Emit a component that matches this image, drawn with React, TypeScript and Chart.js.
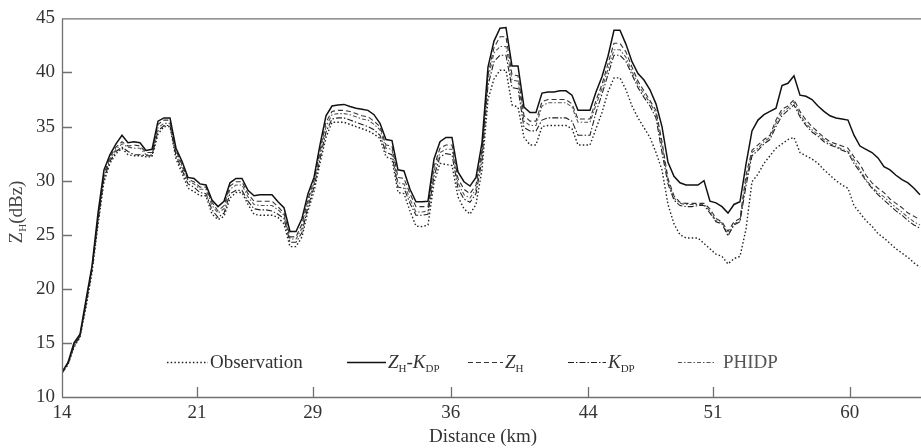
import React, { useEffect, useRef } from "react";
import { Chart, registerables } from "chart.js";
Chart.register(...registerables);

// gate index (one gate per sample along the ray)
const GATE_COUNT = 144;
const X_MAX = 143.17;
const TICK_POS = [0, 22.5, 41.8, 64.8, 87.7, 108.5, 131.3];
const TICK_LABELS = ["14", "21", "29", "36", "44", "51", "60"];
const Y_TICKS = [10, 15, 20, 25, 30, 35, 40, 45];

const ZH_KDP = [
  12.3, 13.2, 15.0, 15.8, 19.0, 22.1, 27.0, 31.0, 32.4, 33.4, 34.2, 33.5, 33.6, 33.5, 32.8, 32.9,
  35.5, 35.8, 35.8, 33.0, 31.8, 30.3, 30.2, 29.7, 29.6, 28.2, 27.6, 28.1, 29.8, 30.2, 30.2, 29.1,
  28.6, 28.7, 28.7, 28.7, 28.05, 27.5, 25.3, 25.3, 26.5, 28.8, 30.3, 33.3, 36.0, 36.9, 37.0, 37.05,
  36.85, 36.7, 36.6, 36.5, 36.1, 35.3, 33.8, 33.7, 31.0, 30.9, 29.2, 28.05, 28.05, 28.1, 32.0, 33.6,
  34.0, 34.0, 30.8, 29.9, 29.5, 30.3, 33.5, 40.5, 42.9, 44.1, 44.15, 40.6, 40.6, 36.8, 36.3, 36.3,
  38.1, 38.2, 38.2, 38.3, 38.3, 37.9, 36.5, 36.5, 36.5, 38.2, 39.6, 41.5, 43.9, 43.9, 42.6, 41.0,
  39.9, 39.3, 38.4, 37.1, 35.0, 31.7, 30.4, 29.8, 29.6, 29.6, 29.6, 30.0, 28.1, 27.95, 27.6, 27.0,
  27.8, 28.05, 31.5, 34.6, 35.6, 36.1, 36.4, 36.7, 38.8, 39.0, 39.7, 37.9, 37.8, 37.5, 36.9, 36.4,
  36.0, 35.8, 35.7, 35.6, 34.2, 33.2, 32.9, 32.6, 32.1, 31.3, 31.0, 30.5, 30.1, 29.8, 29.3, 28.7,
];

const ZH = [
  12.3, 13.1, 14.8, 15.7, 18.8, 22.0, 26.6, 30.6, 32.2, 33.1, 33.6, 33.2, 33.3, 33.2, 32.6, 32.6,
  35.2, 35.6, 35.6, 32.8, 31.5, 30.1, 29.9, 29.4, 29.4, 28.0, 27.2, 27.7, 29.5, 29.9, 29.9, 28.8,
  28.1, 28.1, 28.1, 28.1, 27.6, 27.0, 24.8, 24.8, 26.0, 28.3, 30.0, 32.8, 35.4, 36.4, 36.5, 36.5,
  36.4, 36.2, 36.0, 35.9, 35.5, 35.0, 33.3, 33.2, 30.3, 30.2, 28.8, 27.6, 27.6, 27.6, 31.3, 33.0,
  33.3, 33.3, 30.2, 29.2, 28.8, 29.6, 32.8, 39.8, 42.3, 43.3, 43.3, 39.8, 39.7, 36.0, 35.5, 35.5,
  37.3, 37.5, 37.5, 37.5, 37.5, 37.1, 35.7, 35.7, 35.7, 37.4, 38.9, 40.8, 42.7, 42.7, 41.9, 40.5,
  39.2, 38.3, 37.4, 36.5, 33.6, 30.2, 28.6, 28.0, 27.9, 27.9, 27.9, 27.9, 27.4, 26.5, 26.2, 25.3,
  26.2, 26.5, 30.5, 32.8, 33.3, 33.8, 34.2, 35.6, 36.6, 36.9, 37.5, 36.4, 35.6, 35.0, 34.5, 34.0,
  33.6, 33.4, 33.2, 33.0, 32.2, 31.5, 30.5, 29.8, 29.3, 28.9, 28.3, 27.9, 27.5, 27.0, 26.7, 26.4,
];

const KDP = [
  12.2, 13.0, 14.7, 15.6, 18.5, 21.7, 26.2, 30.2, 31.8, 32.7, 33.1, 32.7, 32.4, 32.4, 32.3, 32.3,
  34.6, 35.1, 35.1, 32.3, 31.0, 29.7, 29.4, 28.9, 28.8, 27.3, 26.6, 27.0, 28.8, 29.1, 29.1, 28.1,
  27.4, 27.3, 27.3, 27.2, 26.9, 26.5, 24.3, 24.3, 25.2, 27.6, 29.4, 32.0, 34.5, 35.7, 35.8, 35.8,
  35.6, 35.4, 35.2, 35.0, 34.7, 34.2, 32.6, 32.4, 29.4, 29.3, 27.9, 26.8, 26.8, 26.9, 30.4, 32.2,
  32.5, 32.4, 29.3, 28.3, 28.0, 28.8, 31.9, 38.8, 41.0, 41.6, 41.6, 38.6, 38.5, 34.9, 34.6, 34.6,
  35.6, 35.8, 35.8, 35.8, 35.8, 35.5, 34.2, 34.2, 34.2, 36.3, 38.0, 39.8, 41.6, 41.6, 41.0, 39.8,
  38.6, 37.7, 36.9, 35.8, 32.6, 29.7, 28.2, 27.7, 27.6, 27.6, 27.7, 27.7, 27.0, 26.2, 26.0, 24.9,
  25.9, 26.2, 29.5, 32.3, 32.8, 33.4, 33.8, 35.0, 36.0, 36.5, 37.0, 35.9, 35.1, 34.5, 34.1, 33.6,
  33.3, 33.1, 32.8, 32.6, 31.6, 30.8, 30.0, 29.3, 28.7, 28.2, 27.7, 27.2, 26.8, 26.3, 25.9, 25.6,
];

const PHIDP = [
  12.3, 13.2, 14.9, 15.7, 18.6, 21.8, 26.4, 30.4, 32.0, 32.9, 33.4, 33.1, 33.0, 33.0, 32.4, 32.4,
  34.9, 35.3, 35.3, 32.6, 31.3, 30.0, 29.7, 29.2, 29.2, 27.7, 27.0, 27.4, 29.2, 29.6, 29.6, 28.5,
  27.8, 27.7, 27.7, 27.7, 27.3, 26.8, 24.6, 24.6, 25.6, 28.0, 29.7, 32.4, 35.0, 36.1, 36.2, 36.2,
  36.1, 35.9, 35.7, 35.6, 35.2, 34.7, 33.0, 32.9, 29.8, 29.7, 28.3, 27.1, 27.1, 27.2, 30.9, 32.6,
  32.9, 32.9, 29.8, 28.7, 28.4, 29.2, 32.4, 39.4, 41.8, 42.4, 42.4, 39.3, 39.2, 35.5, 35.1, 35.1,
  36.9, 37.2, 37.2, 37.2, 37.2, 36.8, 35.4, 35.4, 35.4, 37.0, 38.5, 40.3, 42.1, 42.1, 41.4, 40.1,
  38.9, 38.0, 37.2, 36.2, 33.2, 30.0, 28.4, 27.9, 27.8, 27.8, 27.8, 27.8, 27.2, 26.3, 26.1, 25.0,
  26.0, 26.3, 30.0, 32.6, 33.0, 33.6, 34.0, 35.3, 36.3, 36.7, 37.3, 36.1, 35.3, 34.7, 34.3, 33.8,
  33.4, 33.2, 32.9, 32.7, 31.9, 31.0, 30.1, 29.4, 28.9, 28.5, 28.0, 27.5, 27.1, 26.6, 26.2, 25.9,
];

const OBSERVATION = [
  12.2, 13.0, 14.6, 15.5, 18.3, 21.5, 25.9, 29.9, 31.6, 32.5, 33.0, 32.4, 32.3, 32.3, 32.2, 32.2,
  34.3, 35.0, 35.0, 32.0, 30.7, 29.3, 29.0, 28.6, 28.6, 26.9, 26.4, 26.7, 28.4, 28.9, 28.9, 27.8,
  26.9, 26.8, 26.8, 26.8, 26.6, 26.0, 23.9, 23.9, 24.8, 27.2, 29.0, 31.6, 34.0, 35.4, 35.4, 35.4,
  35.2, 35.0, 34.8, 34.6, 34.3, 33.9, 32.2, 32.0, 28.9, 28.8, 27.2, 25.8, 25.75, 25.9, 29.8, 31.6,
  31.5, 31.4, 28.5, 27.4, 26.9, 27.8, 31.0, 37.5, 39.4, 40.2, 40.2, 37.0, 36.8, 34.0, 33.3, 33.3,
  35.0, 35.1, 35.1, 35.1, 35.1, 34.8, 33.3, 33.3, 33.3, 34.8, 36.3, 38.2, 39.5, 39.5, 38.4, 36.9,
  35.8, 34.9, 34.0, 32.6, 31.0, 27.8, 26.0, 25.0, 24.7, 24.7, 24.7, 24.2, 23.7, 23.2, 23.0, 22.3,
  22.8, 23.0, 25.5, 29.9, 30.6, 31.6, 32.3, 33.0, 33.4, 33.8, 34.0, 32.6, 32.3, 32.0, 31.6, 31.0,
  30.5, 30.0, 29.6, 29.3, 27.7, 27.0, 26.3, 25.8, 25.1, 24.7, 24.2, 23.7, 23.3, 22.9, 22.4, 22.0,
];

const FONT = "'Liberation Serif', 'Times New Roman', serif";
const AXIS_COLOR = "#707070";
const TEXT_COLOR = "#333333";

type Part = { t: string; italic?: boolean; sub?: boolean };

function partFont(p: Part, size: number) {
  const s = p.sub ? Math.round(size * 0.6) : size;
  return `${p.italic ? "italic " : ""}${s}px ${FONT}`;
}

function measureParts(ctx: CanvasRenderingContext2D, parts: Part[], size: number) {
  let w = 0;
  for (const p of parts) {
    ctx.font = partFont(p, size);
    w += ctx.measureText(p.t).width;
  }
  return w;
}

function drawParts(ctx: CanvasRenderingContext2D, parts: Part[], x: number, y: number, size: number, color: string) {
  ctx.fillStyle = color;
  ctx.textBaseline = "alphabetic";
  ctx.textAlign = "left";
  let cx = x;
  for (const p of parts) {
    ctx.font = partFont(p, size);
    ctx.fillText(p.t, cx, p.sub ? y + 4 : y);
    cx += ctx.measureText(p.t).width;
  }
}

const SERIES = [
  { label: "Observation", data: OBSERVATION, color: "#222222", width: 1.4, dash: [1.5, 2.2], parts: [{ t: "Observation" }] as Part[], lx: [167, 208], tx: 210, tcolor: "#333" },
  { label: "ZH-KDP", data: ZH_KDP, color: "#111111", width: 1.5, dash: [] as number[], parts: [{ t: "Z", italic: true }, { t: "H", sub: true }, { t: "-" }, { t: "K", italic: true }, { t: "DP", sub: true }] as Part[], lx: [347, 386], tx: 388, tcolor: "#333" },
  { label: "ZH", data: ZH, color: "#333333", width: 1.1, dash: [5, 3], parts: [{ t: "Z", italic: true }, { t: "H", sub: true }] as Part[], lx: [468, 503], tx: 505, tcolor: "#333" },
  { label: "KDP", data: KDP, color: "#222222", width: 1.1, dash: [6, 2, 1.5, 2], parts: [{ t: "K", italic: true }, { t: "DP", sub: true }] as Part[], lx: [568, 606], tx: 608, tcolor: "#333" },
  { label: "PHIDP", data: PHIDP, color: "#555555", width: 1.1, dash: [4, 2, 1.5, 2], parts: [{ t: "PHIDP" }] as Part[], lx: [678, 716], tx: 723, tcolor: "#555" },
];

const framePlugin = {
  id: "frame",
  afterDraw(chart: any) {
    const ctx: CanvasRenderingContext2D = chart.ctx;
    const { left, right, top, bottom } = chart.chartArea;
    const xs = chart.scales.x;
    const ys = chart.scales.y;
    ctx.save();
    ctx.strokeStyle = AXIS_COLOR;
    ctx.lineWidth = 1.3;
    ctx.setLineDash([]);
    ctx.beginPath();
    ctx.moveTo(left + 0.5, top);
    ctx.lineTo(left + 0.5, bottom);
    ctx.moveTo(left, bottom + 0.5);
    ctx.lineTo(right, bottom + 0.5);
    ctx.moveTo(left, top + 0.5);
    ctx.lineTo(right, top + 0.5);
    for (const v of Y_TICKS) {
      if (v === 10 || v === 45) continue;
      const y = Math.round(ys.getPixelForValue(v)) + 0.5;
      ctx.moveTo(left, y);
      ctx.lineTo(left + 10, y);
    }
    for (const v of TICK_POS) {
      if (v === 0) continue;
      const x = Math.round(xs.getPixelForValue(v)) + 0.5;
      ctx.moveTo(x, bottom);
      ctx.lineTo(x, bottom - 10);
    }
    ctx.stroke();

    // legend
    const ly = 362;
    for (const s of SERIES) {
      ctx.strokeStyle = s.color;
      ctx.lineWidth = s.width;
      ctx.setLineDash(s.dash);
      ctx.beginPath();
      ctx.moveTo(s.lx[0], ly + 0.5);
      ctx.lineTo(s.lx[1], ly + 0.5);
      ctx.stroke();
      drawParts(ctx, s.parts, s.tx, ly + 6, 19, s.tcolor);
    }
    ctx.setLineDash([]);

    // x title
    ctx.font = `19px ${FONT}`;
    ctx.fillStyle = TEXT_COLOR;
    ctx.textAlign = "center";
    ctx.textBaseline = "alphabetic";
    ctx.fillText("Distance (km)", 483, 442);

    // y title
    const yParts: Part[] = [{ t: "Z" }, { t: "H", sub: true }, { t: "(dBz)" }];
    ctx.save();
    ctx.translate(16, 212);
    ctx.rotate(-Math.PI / 2);
    const w = measureParts(ctx, yParts, 19);
    drawParts(ctx, yParts, -w / 2, 6, 19, "#444");
    ctx.restore();
    ctx.restore();
  },
};

export default function App() {
  const ref = useRef<HTMLCanvasElement | null>(null);
  useEffect(() => {
    if (!ref.current) return;
    const gates: number[] = [];
    for (let i = 0; i < GATE_COUNT; i++) gates.push(i);
    const chart = new Chart(ref.current, {
      type: "line",
      data: {
        datasets: SERIES.map((s) => ({
          label: s.label,
          data: s.data.map((v, i) => ({ x: gates[i], y: v })),
          borderColor: s.color,
          backgroundColor: s.color,
          borderWidth: s.width,
          borderDash: s.dash,
          pointRadius: 0,
          tension: 0,
          fill: false,
        })),
      },
      options: {
        responsive: false,
        animation: false,
        devicePixelRatio: 1,
        layout: { padding: { left: 0, right: 0, top: 15, bottom: 0 } },
        plugins: { legend: { display: false }, tooltip: { enabled: false } },
        scales: {
          x: {
            type: "linear",
            min: 0,
            max: X_MAX,
            grid: { display: false, drawTicks: false },
            border: { display: false },
            afterBuildTicks: (s: any) => {
              s.ticks = TICK_POS.map((v) => ({ value: v }));
            },
            afterFit: (s: any) => {
              s.height = 51;
            },
            ticks: {
              autoSkip: false,
              maxRotation: 0,
              padding: 5,
              color: TEXT_COLOR,
              font: { family: FONT, size: 19 },
              callback: (_v: any, i: number) => TICK_LABELS[i],
            },
          },
          y: {
            min: 10,
            max: 45,
            grid: { display: false, drawTicks: false },
            border: { display: false },
            afterBuildTicks: (s: any) => {
              s.ticks = Y_TICKS.map((v) => ({ value: v }));
            },
            afterFit: (s: any) => {
              s.width = 62;
            },
            ticks: {
              padding: 7,
              color: TEXT_COLOR,
              font: { family: FONT, size: 19 },
              callback: (v: any) => String(v),
            },
          },
        },
      },
      plugins: [framePlugin],
    });
    return () => chart.destroy();
  }, []);
  return (
    <div style={{ position: "fixed", left: 0, top: 0, width: 921, height: 448, background: "#fff" }}>
      <canvas ref={ref} width={921} height={448} />
    </div>
  );
}
